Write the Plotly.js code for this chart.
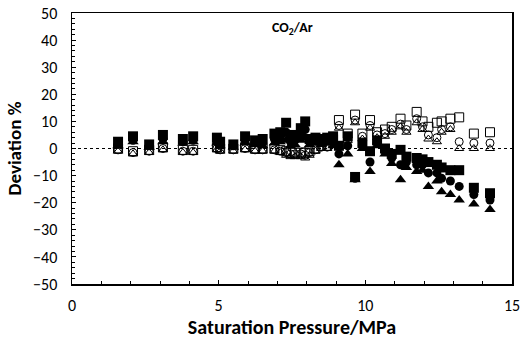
<!DOCTYPE html>
<html>
<head>
<meta charset="utf-8">
<script src="https://cdn.plot.ly/plotly-3.0.1.min.js"></script>
<style>html,body{margin:0;padding:0;background:#fff;}#chart{width:529px;height:349px;}</style>
</head>
<body>
<div id="chart"></div>
<script>
const pressure = [1.57,2.08,2.63,3.1,3.78,4.13,4.94,5.05,5.5,5.9,6.24,6.5,6.9,7.1,7.3,7.45,7.6,7.8,7.95,8.1,8.3,8.5,8.7,8.9,9.1,9.4,9.65,9.9,10.16,10.4,10.67,10.9,11.2,11.4,11.75,11.95,12.15,12.44,12.6,12.9,13.2,13.7,14.25];
const filledSquare = [2.5,4.5,1.5,5,3.5,4.5,4,2.5,1.5,4.5,3,3.5,5.5,6,9.5,4,5,7.5,10,3.5,4,3.5,4,4.5,1,4.5,-10.5,2,-1,3,0,-2,-0.5,-3,-3.5,-4,-5,-6,-7,-8,-8,-14.5,-16.5];
const filledCircle = [1.5,3,1,3.5,2.5,3,3,1.5,1,3,2,2,3.5,4,6,2.5,3,5,7,2.5,3,2.5,3,3,-2,1,-11,1,-5,2,-1,-3.5,-6,-5,-6,-6,-9,-9,-11,-12,-14,-17,-19];
const filledTriangle = [1,2.5,0.5,2.5,2,2.5,2,1,0.5,2,1.5,1,2,2.5,3,1,1.5,3,4,1.5,2,1.5,2,1,-6,-2,-11.5,0,-8.5,1,-2,-5.5,-11.5,-7,-8.5,-8,-14,-12,-16,-17,-19,-20.5,-22.5];
const openSquare = [0,-1,-0.5,0.5,-0.5,-0.5,0.5,0,0,0.5,0,0,0,-0.5,-1,-1.5,-1.5,-1.5,-1.5,-1,0,1,1,3.5,10.5,5.5,12.5,5.5,10.5,6,7,8,11,8.5,13.5,10,8,9.5,10,11,11.5,5.5,6];
const openCircle = [-0.5,-1.5,-1,0,-1,-1,0,-0.5,-0.5,0,-0.5,-0.5,-0.5,-1,-1.5,-2,-2,-2,-2.5,-1.5,-0.5,0.5,0.5,2.5,8.5,4,10.5,4.5,8.5,5,5.5,7,9,7,11,8,5,4,7,8,2.5,2,2];
const openTriangle = [-1,-2,-1.5,-0.5,-1.5,-1.5,-0.5,-1,-1,-0.5,-1,-1,-1,-1.5,-2.5,-3,-3,-3,-3.5,-2.5,-1,0,0,2,7.5,3,9.5,3.5,7.5,4,4.5,6,8,6,9.5,7,3.5,2.5,6,7,0,0,0];

const fontFam = 'Carlito, Lato, "Noto Sans", sans-serif';
function tr(y, sym, size, filled) {
  return {
    x: pressure, y: y, type: 'scatter', mode: 'markers', showlegend: false,
    marker: filled
      ? {symbol: sym, size: size, color: '#000', line: {width: 0}}
      : {symbol: sym, size: size, color: '#000', line: {color: '#000', width: 1}}
  };
}
const data = [
  tr(filledSquare, 'square', 10, true),
  tr(filledCircle, 'circle', 9, true),
  tr(filledTriangle, 'triangle-up', 10, true),
  tr(openSquare, 'square-open', 9, false),
  tr(openCircle, 'circle-open', 8, false),
  tr(openTriangle, 'triangle-up-open', 8, false)
];
const layout = {
  width: 529, height: 349,
  margin: {l: 72, r: 17, t: 13, b: 65},
  paper_bgcolor: '#fff', plot_bgcolor: '#fff',
  font: {family: fontFam, color: '#000', size: 16},
  xaxis: {
    range: [0, 15], dtick: 5, tick0: 0, ticks: 'inside', ticklen: 4, tickcolor: '#000',
    showline: true, linecolor: '#000', linewidth: 1.5, mirror: true,
    showgrid: false, zeroline: false, ticklabelstandoff: 6,
    minor: {dtick: 1, ticks: 'inside', ticklen: 3, tickcolor: '#000'},
    title: {text: '<b>Saturation Pressure/MPa</b>', font: {size: 20, family: fontFam}, standoff: 4}
  },
  yaxis: {
    range: [-50, 50], dtick: 10, tick0: 0, ticks: 'inside', ticklen: 4, tickcolor: '#000',
    showline: true, linecolor: '#000', linewidth: 1.5, mirror: true,
    showgrid: false, zeroline: false, ticklabelstandoff: 10,
    minor: {dtick: 2, ticks: 'inside', ticklen: 3, tickcolor: '#000'},
    title: {text: '<b>Deviation %</b>', font: {size: 19, family: fontFam}, standoff: 6}
  },
  shapes: [{type: 'line', xref: 'x', yref: 'y', x0: 0, x1: 15, y0: 0, y1: 0,
            line: {color: '#000', width: 1, dash: 'dot'}, layer: 'below'}],
  annotations: [{text: '<b>CO<sub>2</sub>/Ar</b>', xref: 'paper', yref: 'paper', x: 0.5, y: 0.985,
                 yanchor: 'top', showarrow: false, font: {size: 14, family: fontFam}}]
};
Plotly.newPlot('chart', data, layout, {displayModeBar: false, staticPlot: true});
</script>
</body>
</html>
